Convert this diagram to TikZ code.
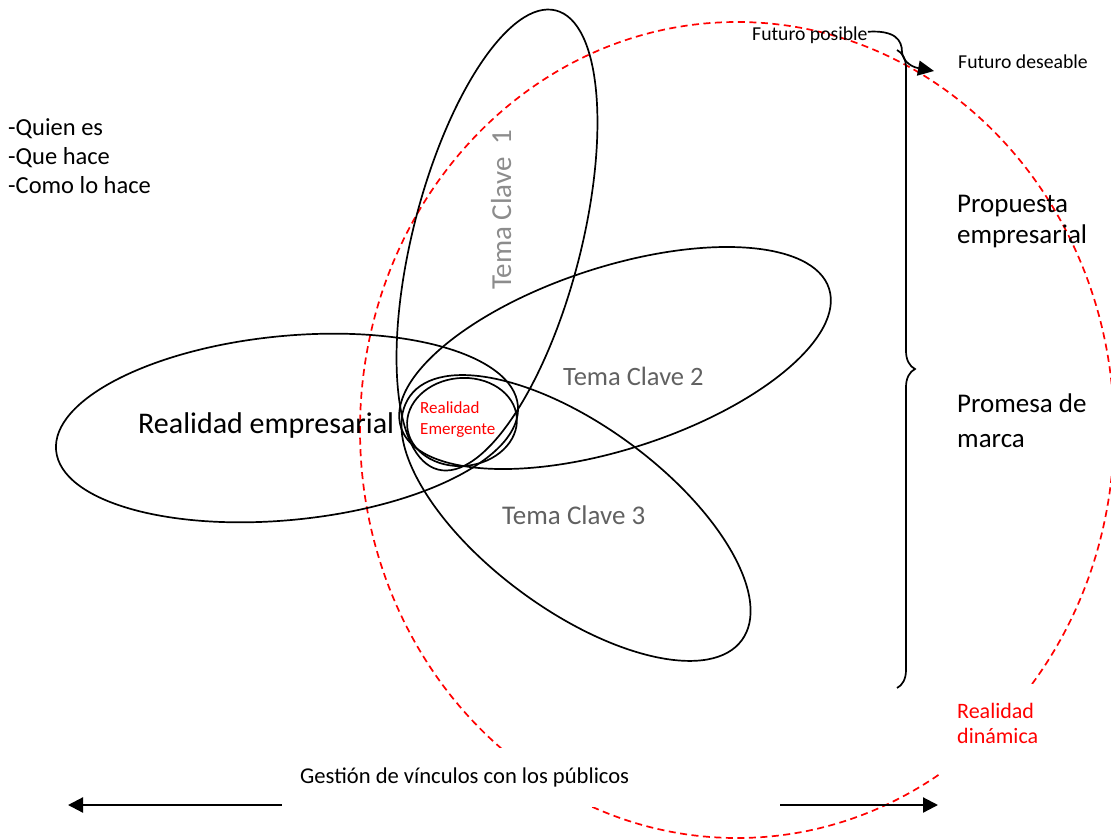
\documentclass[tikz,border=0pt]{standalone}
\usepackage{fontspec}
\setmainfont{Carlito}
\usetikzlibrary{arrows.meta,decorations.pathreplacing}

\begin{document}
\begin{tikzpicture}[x=1pt,y=-1pt,
  oval/.style={line width=1.7pt},
  horizon/.style={red,line width=1.7pt,dash pattern=on 7pt off 4.5pt},
  label/.style={inner sep=0pt,anchor=base west,align=left},
  theme/.style={label,text=black!62}]

  % Frame of the page
  \useasboundingbox (0,0) rectangle (1111,839);

  % Centres of the ovals
  \coordinate (O) at (737,430);
  \coordinate (E) at (287,428);
  \coordinate (M) at (462,422);
  \coordinate (T1) at (497,240);
  \coordinate (T2) at (615,358);
  \coordinate (T3) at (576,518);

  % The red dashed horizon
  \draw[horizon] (O) ellipse [x radius=377, y radius=408];

  % Realidad empresarial and the three key themes
  \draw[oval, rotate around={5.6:(E)}] (E) ellipse [x radius=232, y radius=92];
  \draw[oval, rotate around={75.6:(T1)}] (T1) ellipse [x radius=237, y radius=84];
  \draw[oval, rotate around={18:(T2)}] (T2) ellipse [x radius=225, y radius=91];
  \draw[oval, rotate around={-36.4:(T3)}] (T3) ellipse [x radius=206, y radius=92];

  % Small oval where they meet
  \draw[oval, rotate around={5:(M)}] (M) ellipse [x radius=55, y radius=44];

  % End points of the arrows and the brace
  \coordinate (gl) at (68,805);
  \coordinate (gr) at (938,805);
  \coordinate (fdtip) at (934,71);
  \coordinate (bt) at (897,50);
  \coordinate (bb) at (897,688);

  % Arrow along the bottom, under its white text box
  \draw[line width=2.2pt, {Triangle[length=15pt,width=15pt]}-{Triangle[length=15pt,width=15pt]}] (gl) -- (gr);
  \fill[white] (282,748) rectangle (780,807);
  \fill[white] (940,684) rectangle (1090,775);

  % Brace on the right
  \draw[line width=1.7pt, decorate, decoration={brace, amplitude=18pt}] (bt) -- (bb);

  % Labels
  \node[label, font=\fontsize{24.5}{29}\selectfont] (who) at (8,193) {-Quien es\\-Que hace\\-Como lo hace};
  \node[label, font=\fontsize{30}{36}\selectfont] (real) at (138,433) {Realidad empresarial};
  \node[label, text=red, font=\fontsize{17}{21}\selectfont] (emer) at (420,434) {Realidad\\Emergente};
  \node[theme, text=black!45, rotate=90, font=\fontsize{29}{35}\selectfont] (t1) at (511,290) {Tema Clave\ \ 1};
  \node[theme, font=\fontsize{26.5}{32}\selectfont] (t2) at (563,385) {Tema Clave 2};
  \node[theme, font=\fontsize{27}{32}\selectfont] (t3) at (502,524) {Tema Clave 3};
  \node[label, font=\fontsize{19.7}{24}\selectfont] (fp) at (752,40) {Futuro posible};
  \node[label, font=\fontsize{19.7}{24}\selectfont] (fd) at (958,68) {Futuro deseable};
  \node[label, font=\fontsize{27}{31}\selectfont] (prop) at (957,243) {Propuesta\\empresarial};
  \node[label, font=\fontsize{27}{35}\selectfont] (prom) at (957,447) {Promesa de\\marca};
  \node[label, text=red, font=\fontsize{22}{24.5}\selectfont] (dyn) at (957,743) {Realidad\\dinámica};
  \node[label, font=\fontsize{22.6}{27}\selectfont] (gest) at (300,783) {Gestión de vínculos con los públicos};

  % From possible to desirable future
  \draw[line width=1.7pt, -{Triangle[length=16pt,width=15pt]}] ([yshift=3pt]fp.east) .. controls (895,30) and (902,40) .. (902,52) .. controls (903,62) and (912,67) .. (fdtip);

\end{tikzpicture}
\end{document}
